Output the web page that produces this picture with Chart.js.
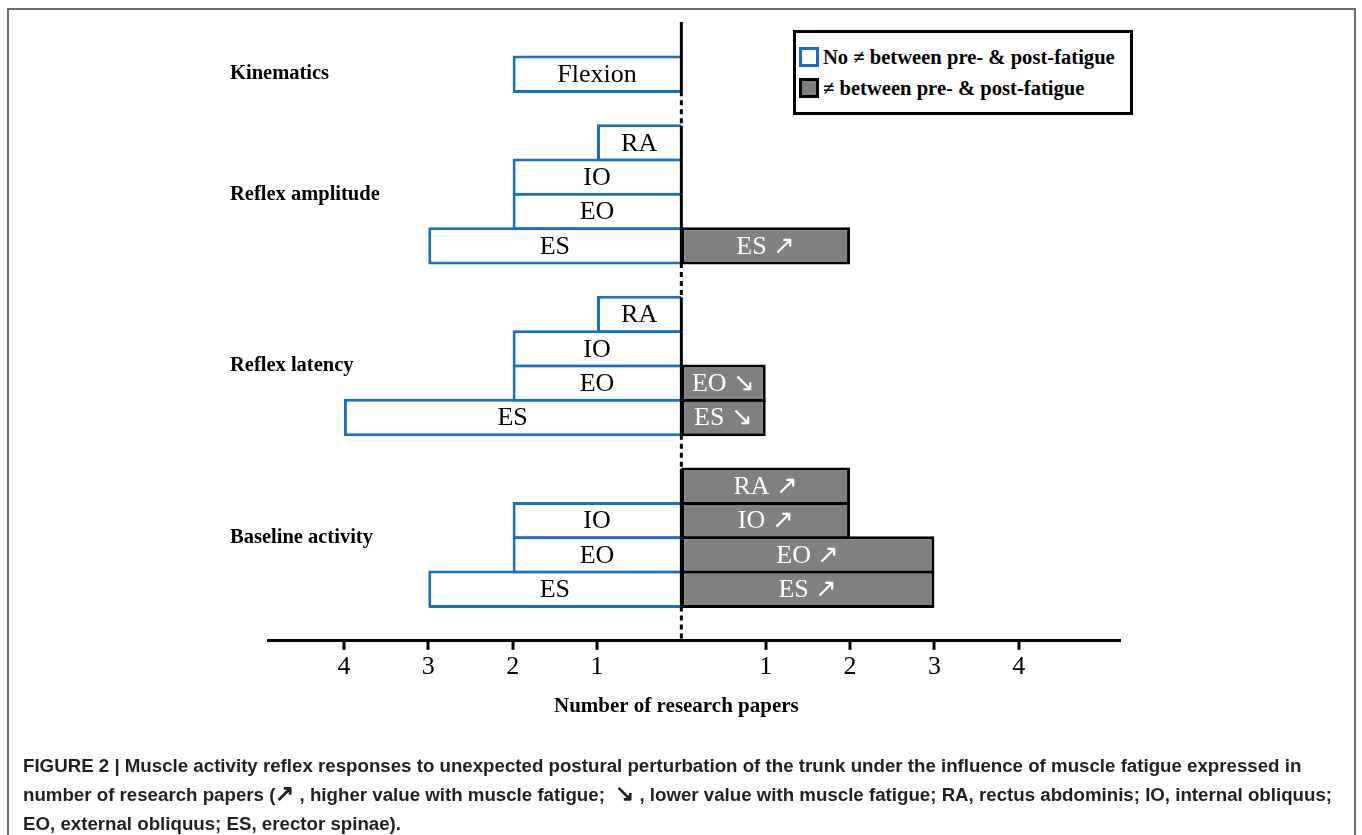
<!DOCTYPE html>
<html>
<head>
<meta charset="utf-8">
<script src="https://cdn.jsdelivr.net/npm/chart.js@4.4.1/dist/chart.umd.min.js"></script>
<style>
  html, body { margin: 0; padding: 0; background: #fff; }
  #wrap { position: relative; width: 1362px; height: 835px; overflow: hidden; }
  #frame { position: absolute; left: 7px; top: 8px; width: 1345px; height: 900px; border: 2px solid #6b6b6b; }
  #chart { position: absolute; left: 0; top: 0; }
  #legend { position: absolute; left: 793px; top: 30px; width: 334px; height: 79px; border: 3px solid #000; background: #fff;
            font: bold 20.6px 'Liberation Serif', serif; color: #000; }
  #legend .item { position: absolute; left: 3px; display: flex; align-items: center; height: 22px; white-space: nowrap; }
  #legend .swatch { width: 20px; height: 20px; margin-right: 4px; box-sizing: border-box; border: 3px solid; }
  #caption { position: absolute; left: 23px; top: 751px; font: bold 18.7px/29px 'Liberation Sans', Arial, sans-serif; color: #231f20; white-space: nowrap; }
  .arr { font-size: 23px; line-height: 20px; }
</style>
</head>
<body>
<div id="wrap">
  <div id="frame"></div>
  <canvas id="chart" width="1362" height="835"></canvas>
  <div id="legend"></div>
  <div id="caption">FIGURE 2 | Muscle activity reflex responses to unexpected postural perturbation of the trunk under the influence of muscle fatigue expressed in<br>number of research papers (<span class="arr">&#8599;</span> , higher value with muscle fatigue; &nbsp;<span class="arr">&#8600;</span> , lower value with muscle fatigue; RA, rectus abdominis; IO, internal obliquus;<br>EO, external obliquus; ES, erector spinae).</div>
</div>
<script>
// one row per bar slot, blank rows separate the groups
const rowLabels = ['Flexion', '', 'RA', 'IO', 'EO', 'ES', '', 'RA', 'IO', 'EO', 'ES', '', 'RA', 'IO', 'EO', 'ES', ''];
const noDiff   = [2, null, 1, 2, 2, 3, null, 1, 2, 2, 4, null, null, 2, 2, 3, null];
const withDiff = [null, null, null, null, null, 2, null, null, null, 1, 1, null, 2, 2, 3, 3, null];
const trend    = ['', '', '', '', '', '\u2197', '', '', '', '\u2198', '\u2198', '', '\u2197', '\u2197', '\u2197', '\u2197', ''];

const groupNames = ['Kinematics', 'Reflex amplitude', 'Reflex latency', 'Baseline activity'];
const groupFirst = [0, 2, 7, 12];
const groupLast  = [0, 5, 10, 15];

const xTicks = [-4, -3, -2, -1, 1, 2, 3, 4];
const xTitle = 'Number of research papers';

const blue = '#1a6fc4';
const grey = '#808080';

const extras = {
  id: 'extras',
  afterDatasetsDraw(chart) {
    const ctx = chart.ctx;
    const xs = chart.scales.x, ys = chart.scales.y, area = chart.chartArea;
    const x0 = xs.getPixelForValue(0);
    const slot = ys.getPixelForValue(1) - ys.getPixelForValue(0);

    // labels inside the bars
    ctx.save();
    ctx.font = '26px "Liberation Serif", serif';
    ctx.textAlign = 'center';
    ctx.textBaseline = 'middle';
    chart.getDatasetMeta(0).data.forEach((el, i) => {
      if (noDiff[i] == null) return;
      ctx.fillStyle = '#000';
      ctx.fillText(rowLabels[i], (el.x + el.base) / 2, el.y + 1);
    });
    chart.getDatasetMeta(1).data.forEach((el, i) => {
      if (withDiff[i] == null) return;
      ctx.fillStyle = '#fff';
      ctx.fillText(rowLabels[i] + ' ' + trend[i], (el.x + el.base) / 2, el.y + 1);
    });

    // group names on the left
    ctx.font = 'bold 20.5px "Liberation Serif", serif';
    ctx.textAlign = 'left';
    ctx.fillStyle = '#000';
    groupNames.forEach((g, k) => {
      const y = (ys.getPixelForValue(groupFirst[k]) + ys.getPixelForValue(groupLast[k])) / 2;
      ctx.fillText(g, 230, y);
    });

    // zero line: solid beside bars, dotted in the gaps
    ctx.strokeStyle = '#000';
    ctx.lineWidth = 3;
    ctx.beginPath();
    ctx.moveTo(x0, 22);
    ctx.lineTo(x0, area.top);
    ctx.stroke();
    rowLabels.forEach((r, i) => {
      const yc = ys.getPixelForValue(i);
      const empty = noDiff[i] == null && withDiff[i] == null;
      ctx.setLineDash(empty ? [5, 4] : []);
      ctx.beginPath();
      ctx.moveTo(x0, yc - slot / 2);
      ctx.lineTo(x0, yc + slot / 2);
      ctx.stroke();
    });
    ctx.setLineDash([]);

    // axis title
    ctx.font = 'bold 21px "Liberation Serif", serif';
    ctx.textAlign = 'center';
    ctx.fillText(xTitle, x0 - 5, area.bottom + 66);

    // tick marks under the axis
    ctx.fillStyle = '#000';
    xTicks.forEach(v => {
      const px = Math.round(xs.getPixelForValue(v));
      ctx.fillRect(px - 1.5, area.bottom, 3, 9);
    });
    ctx.restore();
  }
};

const chart = new Chart(document.getElementById('chart'), {
  type: 'bar',
  data: {
    labels: rowLabels,
    datasets: [
      {
        label: 'No \u2260 between pre- & post-fatigue',
        data: noDiff.map(v => v == null ? null : -v),
        backgroundColor: '#fff',
        borderColor: blue,
        borderWidth: 3,
        borderSkipped: 'start',
        clip: false
      },
      {
        label: '\u2260 between pre- & post-fatigue',
        data: withDiff,
        backgroundColor: grey,
        borderColor: '#000',
        borderWidth: 3,
        borderSkipped: false,
        clip: false
      }
    ]
  },
  options: {
    indexAxis: 'y',
    responsive: false,
    animation: false,
    barPercentage: 1.09,
    categoryPercentage: 1,
    layout: { padding: { left: 268, right: 242, top: 57, bottom: 149 } },
    plugins: { legend: { display: false }, tooltip: { enabled: false } },
    scales: {
      y: { stacked: true, display: false },
      x: {
        type: 'linear',
        stacked: true,
        min: -4.9,
        max: 5.2,
        afterBuildTicks: s => { s.ticks = xTicks.map(v => ({ value: v })); },
        grid: { display: false },
        border: { display: true, color: '#000', width: 3 },
        ticks: {
          color: '#000',
          padding: 3,
          font: { family: 'Liberation Serif', size: 26 },
          callback: v => Math.abs(v)
        }
      }
    }
  },
  plugins: [extras]
});

// legend box built from the datasets
const legend = document.getElementById('legend');
chart.data.datasets.forEach((ds, i) => {
  const item = document.createElement('div');
  item.className = 'item';
  item.style.top = (13 + i * 31) + 'px';
  const sw = document.createElement('span');
  sw.className = 'swatch';
  sw.style.background = ds.backgroundColor;
  sw.style.borderColor = ds.borderColor;
  item.appendChild(sw);
  item.appendChild(document.createTextNode(ds.label));
  legend.appendChild(item);
});
</script>
</body>
</html>
